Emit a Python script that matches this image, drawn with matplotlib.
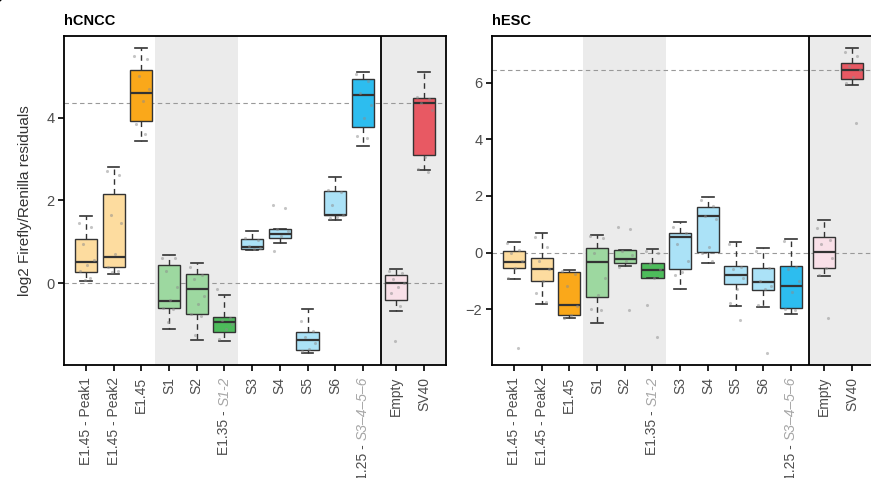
import matplotlib
matplotlib.use("Agg")
import matplotlib.pyplot as plt

plt.rcParams['font.family'] = ['Liberation Sans', 'DejaVu Sans']

# categories (x order), the two italic suffixes are drawn separately
categories = ["E1.45 - Peak1", "E1.45 - Peak2", "E1.45", "S1", "S2", "E1.35 - S1-2",
              "S3", "S4", "S5", "S6", "E1.25 - S3-4-5-6", "Empty", "SV40"]
colors = ["#FDDC9F", "#FDDC9F", "#FAA81A", "#9DD8A0", "#9DD8A0", "#4DBB5B",
          "#ABE2F7", "#ABE2F7", "#ABE2F7", "#ABE2F7", "#2DBDEF", "#F9E0E8", "#E85963"]

# hCNCC box stats
cncc_q1 = [0.26, 0.38, 3.93, -0.59, -0.74, -1.17, 0.82, 1.10, -1.61, 1.65, 3.77, -0.40, 3.10]
cncc_med = [0.50, 0.64, 4.60, -0.43, -0.15, -0.94, 0.88, 1.20, -1.38, 1.66, 4.56, 0.00, 4.37]
cncc_q3 = [1.06, 2.15, 5.16, 0.43, 0.22, -0.81, 1.08, 1.30, -1.18, 2.24, 4.95, 0.19, 4.48]
cncc_lo = [0.06, 0.23, 3.43, -1.11, -1.37, -1.40, 0.81, 0.98, -1.69, 1.54, 3.32, -0.67, 2.74]
cncc_hi = [1.62, 2.80, 5.69, 0.67, 0.48, -0.28, 1.26, 1.30, -0.62, 2.58, 5.12, 0.35, 5.10]
cncc_pts = [
    [1.46, 1.36, 0.95, 0.55, 0.45, 0.30, 0.12, 0.08],
    [2.72, 2.62, 1.65, 1.45, 0.70, 0.40, 0.30, 0.28],
    [5.50, 5.42, 5.00, 4.70, 4.40, 3.85, 3.60],
    [0.62, 0.60, 0.30, -0.10, -0.40, -0.60, -0.62, -0.95],
    [0.40, 0.20, 0.10, -0.30, -0.50, -0.75, -0.80, -1.25],
    [-0.15, -0.85, -0.90, -1.00, -1.10, -1.35],
    [1.10, 1.05, 0.90, 0.85, 0.83],
    [1.88, 1.82, 1.30, 1.25, 1.15, 0.78],
    [-0.92, -1.15, -1.30, -1.45, -1.60, -1.65],
    [2.25, 2.20, 1.90, 1.65, 1.60, 1.58],
    [5.05, 4.90, 4.60, 4.30, 4.00, 3.55, 3.50],
    [0.30, 0.25, 0.10, 0.00, -0.10, -0.25, -0.55, -1.40],
    [4.50, 4.45, 4.35, 4.20, 3.05, 2.75, 2.70],
]

# hESC box stats
esc_q1 = [-0.56, -1.01, -2.20, -1.56, -0.36, -0.91, -0.57, 0.01, -1.12, -1.33, -1.98, -0.55, 6.15]
esc_med = [-0.35, -0.58, -1.87, -0.34, -0.22, -0.63, 0.54, 1.30, -0.80, -1.06, -1.19, 0.02, 6.46]
esc_q3 = [0.06, -0.18, -0.70, 0.15, 0.08, -0.38, 0.68, 1.60, -0.48, -0.55, -0.48, 0.54, 6.72]
esc_lo = [-0.94, -1.83, -2.31, -2.48, -0.48, -0.91, -1.30, -0.37, -1.89, -1.94, -2.18, -0.82, 5.92]
esc_hi = [0.38, 0.68, -0.61, 0.61, 0.08, 0.13, 1.07, 1.95, 0.38, 0.16, 0.47, 1.15, 7.23]
esc_pts = [
    [0.35, 0.10, 0.00, -0.30, -0.55, -0.90, -3.39],
    [0.55, 0.20, -0.30, -0.60, -1.00, -1.45, -1.75],
    [-0.65, -0.75, -1.20, -1.90, -2.20, -2.30],
    [0.60, 0.50, 0.00, -0.90, -1.50, -2.00, -2.05],
    [0.91, 0.84, 0.05, -0.10, -0.30, -0.50, -2.04],
    [0.05, 0.00, -0.40, -0.60, -0.90, -1.87, -3.00],
    [0.90, 0.70, 0.30, -0.30, -0.70, -0.80],
    [1.85, 1.65, 1.30, 1.20, 0.20, 0.00, -0.30],
    [0.30, -0.50, -0.60, -0.90, -1.30, -1.80, -2.39],
    [0.05, -0.55, -1.00, -1.20, -1.30, -1.85, -3.55],
    [0.40, -0.50, -0.60, -1.00, -1.40, -2.00, -2.05],
    [0.85, 0.45, 0.30, -0.20, -0.55, -0.80, -2.32],
    [7.10, 6.95, 6.60, 6.45, 6.20, 6.00, 4.59],
]

positions = [1, 2, 3, 4, 5, 6, 7, 8, 9, 10, 11, 12.2, 13.2]
jitter = [-0.25, 0.2, -0.1, 0.28, 0.05, -0.2, 0.15, -0.05]
edge = "#333333"
txt = "#4D4D4D"
lab_size = 10


def draw_panel(ax, title, q1, med, q3, lo, hi, pts, ylim, yticks):
    ax.axvspan(3.5, 6.5, color="#EBEBEB", lw=0, zorder=0)
    ax.axvspan(11.65, 14.2, color="#EBEBEB", lw=0, zorder=0)
    ax.axhline(0, color="#999999", lw=0.8, ls=(0, (4, 3)), zorder=1)
    ax.axhline(med[-1], color="#999999", lw=0.8, ls=(0, (4, 3)), zorder=1)

    stats = []
    for i in range(len(categories)):
        stats.append(dict(q1=q1[i], med=med[i], q3=q3[i], whislo=lo[i], whishi=hi[i], fliers=[]))
    bp = ax.bxp(stats, positions=positions, widths=0.8, capwidths=0.42, patch_artist=True,
                showfliers=False, manage_ticks=False,
                boxprops=dict(edgecolor=edge, linewidth=1.0),
                medianprops=dict(color=edge, linewidth=1.6),
                whiskerprops=dict(color=edge, linewidth=1.0, linestyle=(0, (4, 3))),
                capprops=dict(color=edge, linewidth=1.2))
    for patch, c in zip(bp["boxes"], colors):
        patch.set_facecolor(c)
        patch.set_zorder(2)

    for i, vals in enumerate(pts):
        xs = [positions[i] + jitter[j % len(jitter)] for j in range(len(vals))]
        ax.scatter(xs, vals, s=5, color="#8C8C8C", alpha=0.5, lw=0, zorder=4)

    ax.axvline(11.65, color="black", lw=1.3, zorder=5)
    ax.set_xlim(0.21, 14.0)
    ax.set_ylim(*ylim)
    ax.set_yticks(yticks)
    ax.set_yticklabels([str(t).replace("-", "\u2212") for t in yticks], fontsize=10.5, color=txt)
    ax.set_xticks(positions)
    labels = []
    for c in categories:
        labels.append("" if c.startswith("E1.35") or c.startswith("E1.25") else c)
    ax.set_xticklabels(labels, rotation=90, fontsize=lab_size, color=txt)
    ax.tick_params(axis="x", length=4.5, width=1.2, pad=4, color="black")
    ax.tick_params(axis="y", length=4, width=1.2, pad=3, color="black")
    for s in ax.spines.values():
        s.set_linewidth(1.3)
        s.set_color("black")
    ax.set_title(title, loc="left", fontsize=10.5, fontweight="bold", pad=8)

    # mixed-style labels: italic grey suffix nearest the axis
    for pos, pre, suf in [(positions[5], "E1.35 - ", "S1-2"), (positions[10], "E1.25 - ", "S3\u20134\u20135\u20136")]:
        t = ax.annotate(suf, xy=(pos, 0), xycoords=("data", "axes fraction"),
                        xytext=(0, -8.5), textcoords="offset points", rotation=90,
                        ha="center", va="top", fontsize=lab_size, style="italic", color="#A6A6A6",
                        annotation_clip=False)
        ax.annotate(pre, xy=(0.5, 0), xycoords=t, xytext=(0, 0), textcoords="offset points",
                    rotation=90, ha="center", va="top", fontsize=lab_size, color=txt,
                    annotation_clip=False)


fig = plt.figure(figsize=(8.71, 4.78), dpi=100)
ax1 = fig.add_axes([0.0735, 0.2364, 0.4386, 0.6883])
ax2 = fig.add_axes([0.5649, 0.2364, 0.4386, 0.6883])

draw_panel(ax1, "hCNCC", cncc_q1, cncc_med, cncc_q3, cncc_lo, cncc_hi, cncc_pts,
           (-1.98, 5.98), [0, 2, 4])
draw_panel(ax2, "hESC", esc_q1, esc_med, esc_q3, esc_lo, esc_hi, esc_pts,
           (-3.98, 7.66), [-2, 0, 2, 4, 6])

ax1.set_ylabel("log2 Firefly/Renilla residuals", fontsize=11, color="#333333", labelpad=10)

fig.text(-0.012, 0.985, "b", fontsize=16, fontweight="bold", va="bottom", ha="left")

fig.savefig("out.png", dpi=100)
